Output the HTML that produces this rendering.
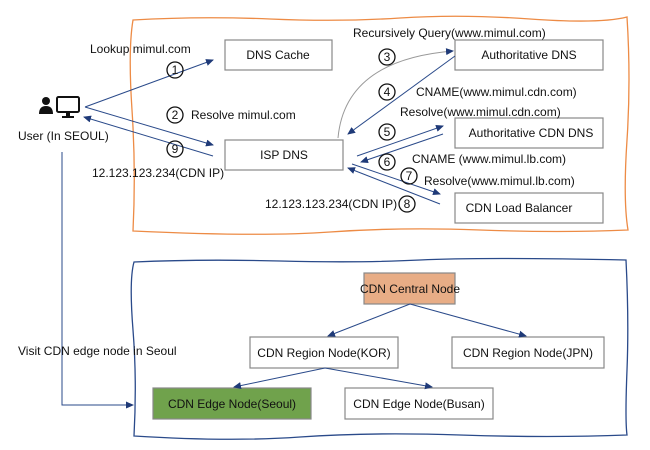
<!DOCTYPE html>
<html><head><meta charset="utf-8"><style>
body{margin:0;width:650px;height:445px;background:#fff;overflow:hidden;font-family:"Liberation Sans","Noto Sans CJK KR",sans-serif}
</style></head><body>
<svg width="650" height="445" xmlns="http://www.w3.org/2000/svg" font-family="Liberation Sans, Noto Sans CJK KR, sans-serif" font-size="12" fill="#111">
<defs>
<marker id="a" markerWidth="8" markerHeight="8" refX="7" refY="4" orient="auto" markerUnits="userSpaceOnUse"><path d="M0,0.5 L8,4 L0,7.5 z" fill="#1f3a78"/></marker>
</defs>
<path d="M133,20 Q200,16 270,19 T400,18 T530,19 T627,17 Q631,80 627,140 T628,230 Q560,233 480,230 T330,232 T133,231 Q136,170 132,110 T133,20 z" fill="none" stroke="#ed8b45" stroke-width="1.3"/>
<path d="M134,262 Q200,259 280,261 T420,260 T626,260 Q629,320 627,370 T627,435 Q550,438 460,435 T300,437 T134,436 Q137,380 133,330 T134,262 z" fill="none" stroke="#2a4a8a" stroke-width="1.3"/>
<g stroke="#888" stroke-width="1.2" fill="#fff">
<rect x="225" y="40" width="107" height="30"/>
<rect x="455" y="40" width="148" height="30"/>
<rect x="225" y="140" width="118" height="30"/>
<rect x="455" y="118" width="148" height="30"/>
<rect x="455" y="193" width="148" height="30"/>
<rect x="364" y="273" width="91" height="31" fill="#e8ad86"/>
<rect x="250" y="337" width="148" height="31"/>
<rect x="452" y="337" width="152" height="31"/>
<rect x="153" y="388" width="158" height="31" fill="#70a24c"/>
<rect x="345" y="388" width="148" height="31"/>
</g>
<g text-anchor="middle">
<text x="278" y="59">DNS Cache</text>
<text x="529" y="59">Authoritative DNS</text>
<text x="284" y="159">ISP DNS</text>
<text x="531" y="137">Authoritative CDN DNS</text>
<text x="519" y="212">CDN Load Balancer</text>
<text x="410" y="293">CDN Central Node</text>
<text x="324" y="357">CDN Region Node(KOR)</text>
<text x="528" y="357">CDN Region Node(JPN)</text>
<text x="232" y="408">CDN Edge Node(Seoul)</text>
<text x="419" y="408">CDN Edge Node(Busan)</text>
</g>
<g stroke="#2a4a8a" stroke-width="1" fill="none">
<line x1="85" y1="107" x2="213" y2="60" marker-end="url(#a)"/>
<line x1="85" y1="107" x2="213" y2="145" marker-end="url(#a)"/>
<line x1="213" y1="156" x2="84" y2="117" marker-end="url(#a)"/>
<line x1="455" y1="56" x2="348" y2="134" marker-end="url(#a)"/>
<line x1="357" y1="156" x2="443" y2="126" marker-end="url(#a)"/>
<line x1="443" y1="134" x2="361" y2="162" marker-end="url(#a)"/>
<line x1="352" y1="164" x2="440" y2="194" marker-end="url(#a)"/>
<line x1="440" y1="204" x2="348" y2="168" marker-end="url(#a)"/>
<line x1="410" y1="304" x2="328" y2="336" marker-end="url(#a)"/>
<line x1="410" y1="304" x2="526" y2="336" marker-end="url(#a)"/>
<line x1="325" y1="368" x2="234" y2="387" marker-end="url(#a)"/>
<line x1="325" y1="368" x2="432" y2="387" marker-end="url(#a)"/>
<polyline points="62,152 62,405 133,405" marker-end="url(#a)"/>
</g>
<path d="M338,138 Q345,60 453,51" fill="none" stroke="#999" stroke-width="1" marker-end="url(#a)"/>
<circle cx="46" cy="101" r="4" fill="#111"/>
<path d="M39,114 Q39,106 46,106 Q53,106 53,114 z" fill="#111"/>
<rect x="57" y="97" width="22" height="15" rx="1.5" fill="none" stroke="#111" stroke-width="2"/>
<rect x="66" y="112" width="4" height="4" fill="#111"/>
<rect x="62" y="116" width="12" height="2" fill="#111"/>
<text x="18" y="140">User (In SEOUL)</text>
<text x="90" y="53">Lookup mimul.com</text>
<text x="191" y="119">Resolve mimul.com</text>
<text x="92" y="177">12.123.123.234(CDN IP)</text>
<text x="353" y="37">Recursively Query(www.mimul.com)</text>
<text x="416" y="96">CNAME(www.mimul.cdn.com)</text>
<text x="400" y="116">Resolve(www.mimul.cdn.com)</text>
<text x="412" y="163">CNAME (www.mimul.lb.com)</text>
<text x="424" y="185">Resolve(www.mimul.lb.com)</text>
<text x="265" y="208">12.123.123.234(CDN IP)</text>
<text x="18" y="355">Visit CDN edge node in Seoul</text>
<g text-anchor="middle" font-size="12">
<g fill="none" stroke="#111" stroke-width="1.3">
<circle cx="175" cy="70" r="8"/><circle cx="175" cy="115" r="8"/><circle cx="175" cy="149" r="8"/>
<circle cx="387" cy="57" r="8"/><circle cx="387" cy="92" r="8"/><circle cx="387" cy="132" r="8"/>
<circle cx="387" cy="162" r="8"/><circle cx="409" cy="176" r="8"/><circle cx="407" cy="204" r="8"/>
</g>
<text x="175" y="74">1</text><text x="175" y="119">2</text><text x="175" y="153">9</text>
<text x="387" y="61">3</text><text x="387" y="96">4</text><text x="387" y="136">5</text>
<text x="387" y="166">6</text><text x="409" y="180">7</text><text x="407" y="208">8</text>
</g>
</svg>
</body></html>
